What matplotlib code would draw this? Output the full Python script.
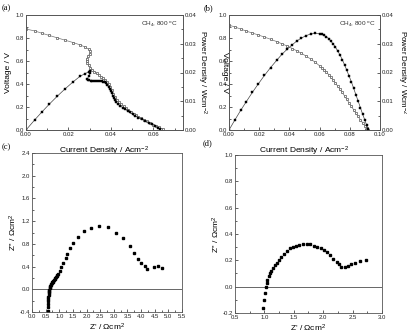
import matplotlib.pyplot as plt
from matplotlib.ticker import MultipleLocator, FormatStrFormatter

plt.rcParams['font.family'] = ['Liberation Sans', 'DejaVu Sans']
plt.rcParams['mathtext.default'] = 'regular'

# (a) voltage, open squares
ia_v = [0, 0.0042, 0.0074, 0.011, 0.0148, 0.0184, 0.0223, 0.0255, 0.0278, 0.0295, 0.0303,
        0.0300, 0.0293, 0.0287, 0.0286, 0.0289, 0.0295, 0.0303, 0.0312, 0.0322, 0.0333,
        0.0344, 0.0355, 0.0365, 0.0374, 0.0382,
        0.039, 0.0397, 0.0405, 0.0412, 0.042, 0.0428, 0.0436, 0.0446, 0.046, 0.0472,
        0.0483, 0.0495, 0.0507, 0.052, 0.053, 0.0542, 0.0554, 0.057, 0.0586, 0.060,
        0.0612, 0.0625, 0.0636, 0.0645]
va = [0.878, 0.861, 0.842, 0.822, 0.801, 0.781, 0.760, 0.740, 0.722, 0.703, 0.683,
      0.662, 0.642, 0.621, 0.601, 0.581, 0.562, 0.543, 0.525, 0.508, 0.492,
      0.476, 0.462, 0.448, 0.434, 0.419,
      0.40, 0.375, 0.345, 0.315, 0.29, 0.265, 0.245, 0.225, 0.205, 0.188,
      0.174, 0.158, 0.142, 0.128, 0.117, 0.103, 0.09, 0.075, 0.06, 0.047,
      0.035, 0.023, 0.013, 0.005]

# (a) power density, filled squares
ia_p = [0, 0.0042, 0.0074, 0.011, 0.0148, 0.0184, 0.0223, 0.0255, 0.0278, 0.0295,
        0.0302, 0.0303, 0.0297,
        0.0287, 0.0292, 0.0298, 0.0305, 0.0313, 0.0321, 0.0330, 0.0339, 0.0348, 0.0357,
        0.0365, 0.0372, 0.0378,
        0.0384, 0.0389, 0.0394, 0.0399, 0.0404, 0.0409, 0.0414, 0.0419, 0.0426, 0.0434,
        0.0444, 0.0456, 0.0468, 0.048, 0.0491, 0.0503, 0.0515, 0.053, 0.0546, 0.0562,
        0.0578, 0.0594, 0.061, 0.0622, 0.0633]
pa = [0, 0.0036, 0.0062, 0.0090, 0.0118, 0.0143, 0.0168, 0.0187, 0.0196, 0.0202,
      0.0204, 0.0200, 0.0188,
      0.0176, 0.0174, 0.0173, 0.0172, 0.0171, 0.0171, 0.0172, 0.0172, 0.0171, 0.0170,
      0.0168, 0.0166, 0.0162,
      0.0156, 0.0150, 0.0144, 0.0136, 0.0128, 0.0120, 0.0112, 0.0104, 0.0096, 0.0090,
      0.0084, 0.0078, 0.0072, 0.0066, 0.0061, 0.0055, 0.0049, 0.0043, 0.0038, 0.0032,
      0.0026, 0.0020, 0.0014, 0.0008, 0.0002]

# (b) current, voltage, power density
ib = [0.0, 0.0039, 0.0077, 0.0115, 0.0155, 0.0195, 0.0235, 0.0275, 0.0315, 0.035,
      0.0385, 0.042, 0.045, 0.048, 0.051, 0.054, 0.057, 0.060, 0.0615, 0.063,
      0.0645, 0.066, 0.0675, 0.069, 0.0705, 0.072, 0.0735, 0.075, 0.0765, 0.078,
      0.0795, 0.081, 0.0825, 0.084, 0.0855, 0.087, 0.0885, 0.090, 0.0912, 0.0922]
vb = [0.912, 0.896, 0.878, 0.860, 0.843, 0.826, 0.808, 0.789, 0.769, 0.750,
      0.730, 0.708, 0.688, 0.667, 0.643, 0.618, 0.590, 0.558, 0.541, 0.523,
      0.503, 0.482, 0.458, 0.434, 0.408, 0.382, 0.355, 0.327, 0.297, 0.267,
      0.237, 0.207, 0.177, 0.147, 0.118, 0.090, 0.062, 0.038, 0.018, 0.004]
pb = [0.0, 0.0035, 0.0068, 0.0099, 0.0131, 0.0161, 0.0190, 0.0217, 0.0242, 0.0263,
      0.0281, 0.0297, 0.0310, 0.0320, 0.0328, 0.0334, 0.0336, 0.0335, 0.0333, 0.0329,
      0.0324, 0.0318, 0.0309, 0.0299, 0.0288, 0.0275, 0.0261, 0.0245, 0.0227, 0.0208,
      0.0188, 0.0168, 0.0146, 0.0123, 0.0101, 0.0078, 0.0055, 0.0034, 0.0016, 0.0004]

# (c) impedance
zc_re = [0.58, 0.58, 0.58, 0.59, 0.59, 0.60, 0.61, 0.62, 0.62, 0.63, 0.64, 0.65, 0.66,
         0.67, 0.68, 0.70, 0.72, 0.74, 0.76, 0.78, 0.81, 0.83, 0.86, 0.88, 0.90, 0.93,
         0.95, 1.01, 1.07, 1.15, 1.23, 1.30, 1.38, 1.51, 1.69, 1.91, 2.16, 2.47, 2.78,
         3.09, 3.33, 3.58, 3.73, 3.89, 4.01, 4.13, 4.20, 4.47, 4.63, 4.75]
zc_im = [-0.385, -0.32, -0.255, -0.20, -0.166, -0.13, -0.10, -0.07, -0.05, -0.025, -0.005,
         0.015, 0.035, 0.055, 0.07, 0.09, 0.107, 0.122, 0.136, 0.15, 0.166, 0.183, 0.20,
         0.218, 0.237, 0.255, 0.273, 0.33, 0.40, 0.47, 0.55, 0.62, 0.72, 0.82, 0.92, 1.02,
         1.085, 1.115, 1.10, 1.00, 0.90, 0.77, 0.64, 0.53, 0.455, 0.41, 0.355, 0.40, 0.41,
         0.37]

# (d) impedance
zd_re = [0.98, 1.00, 1.01, 1.03, 1.04, 1.05, 1.08, 1.09, 1.12, 1.15, 1.18, 1.22, 1.25,
         1.29, 1.34, 1.39, 1.43, 1.48, 1.53, 1.59, 1.66, 1.72, 1.78, 1.85, 1.90, 1.96,
         2.01, 2.06, 2.11, 2.17, 2.23, 2.27, 2.31, 2.37, 2.42, 2.48, 2.54, 2.62, 2.72]
zd_im = [-0.163, -0.10, -0.046, 0.0, 0.028, 0.053, 0.079, 0.10, 0.12, 0.142, 0.162, 0.183,
         0.20, 0.226, 0.25, 0.27, 0.29, 0.30, 0.31, 0.32, 0.327, 0.327, 0.322, 0.312, 0.30,
         0.29, 0.277, 0.264, 0.24, 0.213, 0.188, 0.17, 0.15, 0.15, 0.16, 0.17, 0.18, 0.195,
         0.20]

W, H = 407, 334
fig = plt.figure(figsize=(W / 100, H / 100), dpi=100)


def box(l, t, r, b):
    return [l / W, 1 - b / H, (r - l) / W, (b - t) / H]


def style(ax):
    ax.tick_params(which='both', direction='in', labelsize=4.3, width=0.5, pad=1.3,
                   colors='#222')
    ax.tick_params(which='major', length=2.5)
    ax.tick_params(which='minor', length=1.3)
    for s in ax.spines.values():
        s.set_linewidth(0.6)
        s.set_color('#555')


def ylabel_at(ax, text, x, rot, size=6):
    # centre the rotated label on an axes-fraction x position
    ax.set_ylabel(text, fontsize=size, rotation=rot)
    ax.yaxis.label.set_va('center')
    ax.yaxis.set_label_coords(x, 0.5)


def jv_panel(rect, i_v, v, i_p, p, xmax):
    ax = fig.add_axes(rect)
    ax.plot(i_v, v, '-s', color='#777', lw=0.5, ms=2.0, mfc='white', mec='#555', mew=0.5)
    ax.set_xlim(0, xmax)
    ax.set_ylim(0, 1.0)
    ax.xaxis.set_major_locator(MultipleLocator(0.02))
    ax.xaxis.set_minor_locator(MultipleLocator(0.01))
    ax.yaxis.set_major_locator(MultipleLocator(0.2))
    ax.yaxis.set_minor_locator(MultipleLocator(0.1))
    ax.xaxis.set_major_formatter(FormatStrFormatter('%.2f'))
    ax.yaxis.set_major_formatter(FormatStrFormatter('%.1f'))
    style(ax)
    ax2 = ax.twinx()
    ax2.plot(i_p, p, '-s', color='#444', lw=0.5, ms=2.0, mfc='black', mec='black', mew=0.3)
    ax2.set_ylim(0, 0.04)
    ax2.yaxis.set_major_locator(MultipleLocator(0.01))
    ax2.yaxis.set_minor_locator(MultipleLocator(0.005))
    ax2.yaxis.set_major_formatter(FormatStrFormatter('%.2f'))
    style(ax2)
    ax.text(0.97, 0.93, r'CH$_4$, 800 $^o$C', transform=ax.transAxes, ha='right',
            va='center', fontsize=4.6, color='#333')
    ax.set_xlabel(r'Current Density / Acm$^{-2}$', fontsize=6)
    ax.xaxis.set_label_coords(0.5, -0.13)
    return ax, ax2


axa, axa2 = jv_panel(box(26, 15, 183, 130), ia_v, va, ia_p, pa, 0.074)
ylabel_at(axa, 'Voltage / V', -0.11, 90)
ylabel_at(axa2, r'Power Density / Wcm$^{-2}$', 1.12, 270, 5.8)
axb, axb2 = jv_panel(box(229, 15, 380, 130), ib, vb, ib, pb, 0.10)
ylabel_at(axb, 'Voltage / V', -0.03, 270)
ylabel_at(axb2, r'Power Density / Wcm$^{-2}$', 1.145, 270, 5.8)


def eis_panel(rect, zr, zi, xlim, ylim, xstep, ystep):
    ax = fig.add_axes(rect)
    ax.axhline(0, color='#666', lw=0.7)
    ax.plot(zr, zi, 's', color='black', ms=2.0)
    ax.set_xlim(*xlim)
    ax.set_ylim(*ylim)
    ax.xaxis.set_major_locator(MultipleLocator(xstep))
    ax.xaxis.set_minor_locator(MultipleLocator(xstep / 2))
    ax.yaxis.set_major_locator(MultipleLocator(ystep))
    ax.yaxis.set_minor_locator(MultipleLocator(ystep / 2))
    ax.xaxis.set_major_formatter(FormatStrFormatter('%.1f'))
    ax.yaxis.set_major_formatter(FormatStrFormatter('%.1f'))
    style(ax)
    ax.set_xlabel("Z' / \u03a9cm$^2$", fontsize=6)
    ax.xaxis.set_label_coords(0.5, -0.06)
    ylabel_at(ax, "Z'' / \u03a9cm$^2$", -0.125, 90)
    return ax


axc = eis_panel(box(32, 153, 182, 312), zc_re, zc_im, (0, 5.5), (-0.4, 2.4), 0.5, 0.4)
axd = eis_panel(box(235, 155, 382, 313), zd_re, zd_im, (0.5, 3.0), (-0.2, 1.0), 0.5, 0.2)

for x, y, s in [(2, 8, '(a)'), (204, 8, '(b)'), (2, 147, '(c)'), (203, 143, '(d)')]:
    fig.text(x / W, 1 - y / H, s, fontsize=6, family='Liberation Serif', va='center')

fig.savefig('out.png', dpi=100)
